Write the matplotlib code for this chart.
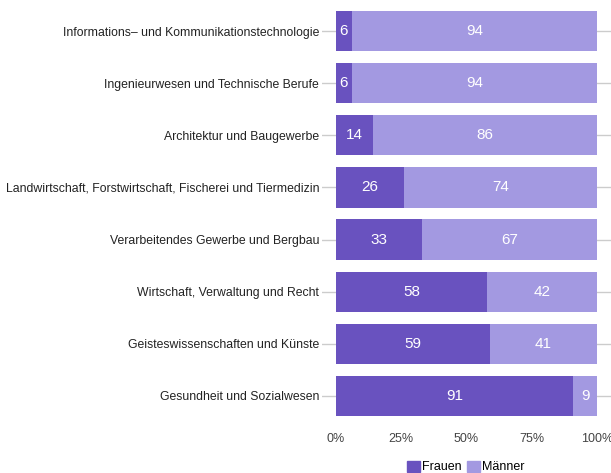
import numpy as np
import matplotlib.pyplot as plt
from matplotlib.patches import Patch

plt.rcParams['font.family'] = ['Liberation Sans', 'DejaVu Sans']

categories = [
    'Informations– und Kommunikationstechnologie',
    'Ingenieurwesen und Technische Berufe',
    'Architektur und Baugewerbe',
    'Landwirtschaft, Forstwirtschaft, Fischerei und Tiermedizin',
    'Verarbeitendes Gewerbe und Bergbau',
    'Wirtschaft, Verwaltung und Recht',
    'Geisteswissenschaften und Künste',
    'Gesundheit und Sozialwesen',
]
frauen = [6, 6, 14, 26, 33, 58, 59, 91]
maenner = [94, 94, 86, 74, 67, 42, 41, 9]
xticks = [0, 25, 50, 75, 100]
xticklabels = ['0%', '25%', '50%', '75%', '100%']

c_frauen = '#6952bf'
c_maenner = '#a399e1'

fig = plt.figure(figsize=(6.11, 4.73), dpi=100)
ax = fig.add_axes([322 / 611, 1 - 422 / 473, 1 - 322 / 611, 417 / 473])

y = np.arange(len(categories))
ax.barh(y, frauen, height=0.77, color=c_frauen, zorder=2)
ax.barh(y, maenner, left=frauen, height=0.77, color=c_maenner, zorder=2)

for i in range(len(categories)):
    ax.text(frauen[i] / 2, y[i], str(frauen[i]), color='white', fontsize=11,
            ha='center', va='center', zorder=3)
    ax.text(frauen[i] + maenner[i] / 2, y[i], str(maenner[i]), color='white',
            fontsize=11, ha='center', va='center', zorder=3)

ax.set_xlim(-5.4, 105.4)
ax.set_ylim(len(categories) - 0.5, -0.5)
ax.set_yticks(y)
ax.set_yticklabels(categories, fontsize=8.8, color='#222222')
ax.set_xticks(xticks)
ax.set_xticklabels(xticklabels, fontsize=9, color='#444444')
ax.tick_params(axis='both', length=0)
ax.tick_params(axis='y', pad=2)
ax.tick_params(axis='x', pad=8)
ax.grid(axis='y', color='#cccccc', linewidth=1, zorder=1)
for s in ax.spines.values():
    s.set_visible(False)

handles = [Patch(color=c_frauen, label='Frauen'), Patch(color=c_maenner, label='Männer')]
fig.legend(handles=handles, loc='center', bbox_to_anchor=(466 / 611, 1 - 467 / 473),
           ncol=2, frameon=False, fontsize=9, handlelength=1.0, handleheight=1.0,
           handletextpad=0.2, columnspacing=0.4, borderaxespad=0)

fig.savefig('out.png', dpi=100)
